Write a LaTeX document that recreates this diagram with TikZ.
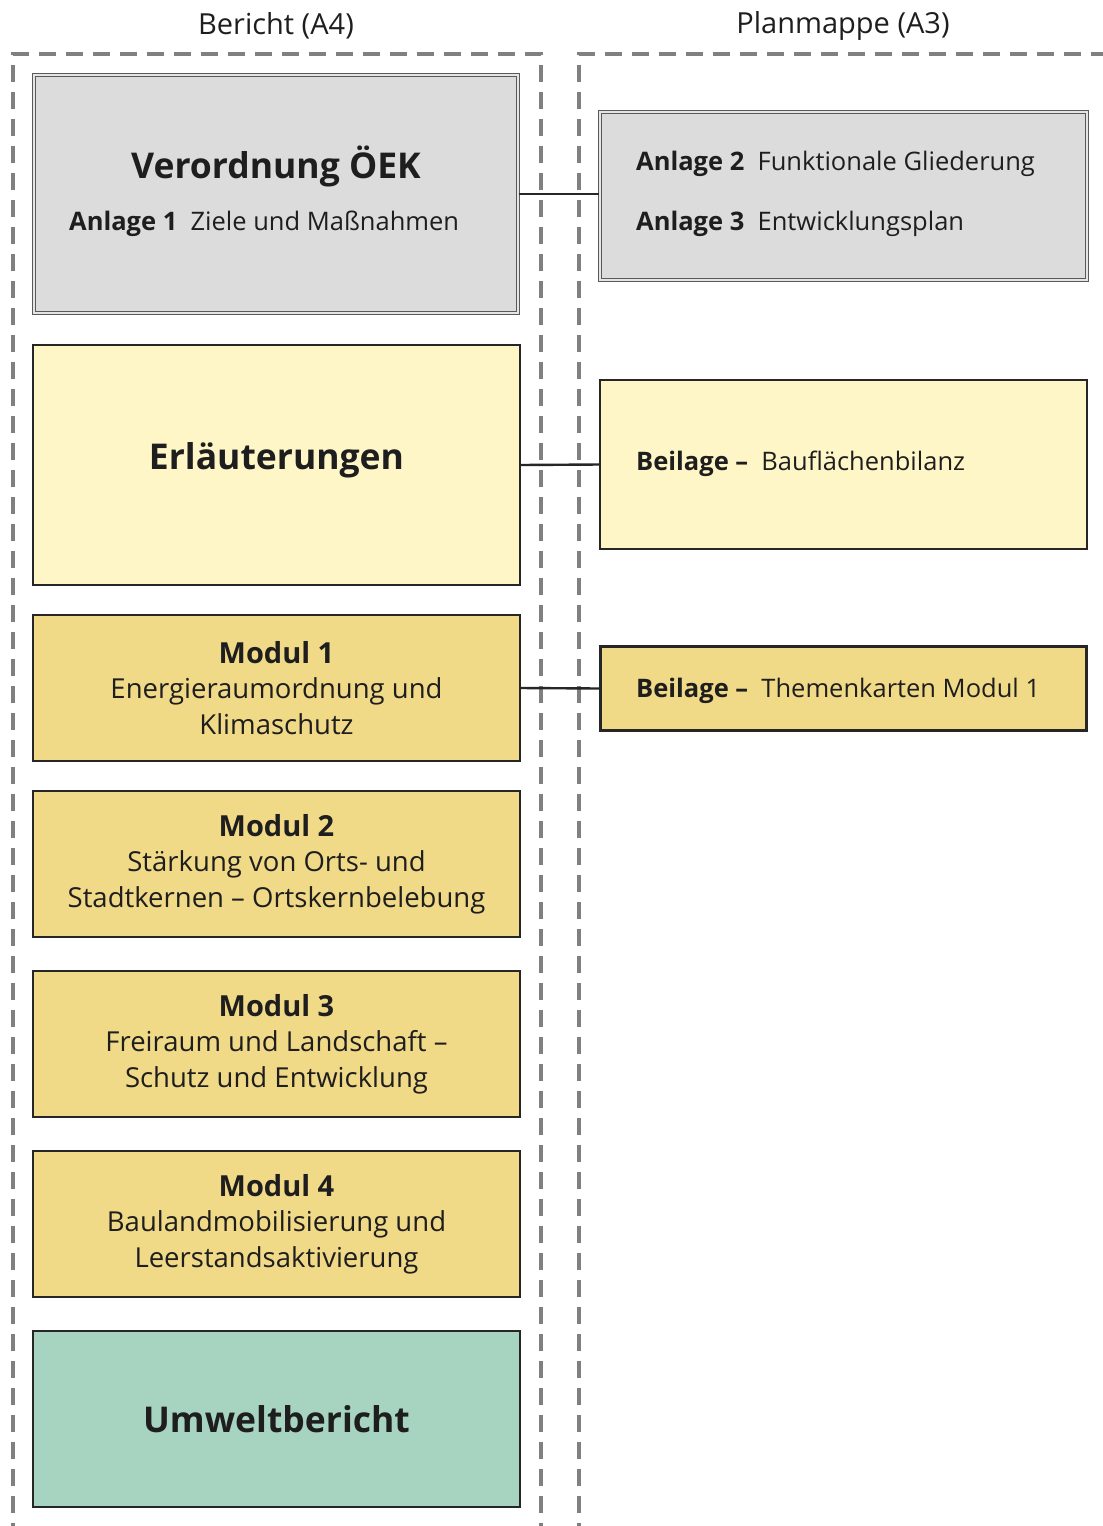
\documentclass[tikz,border=0pt]{standalone}
\usepackage{fontspec}
\setmainfont{Open Sans}
\usepackage{tikz}

\definecolor{greyFill}{HTML}{DCDCDC}
\definecolor{lightFill}{HTML}{FFF6C7}
\definecolor{modulFill}{HTML}{F0D987}
\definecolor{greenFill}{HTML}{A6D4C0}
\definecolor{textGrey}{HTML}{1E1E1E}

\begin{document}
\begin{tikzpicture}
[x=1pt,y=-1pt,%
    boxDecorate/.style={shape=rectangle,inner sep=0pt,draw=black!85,line width=1.2pt,align=center,text=textGrey,font=\fontsize{27.5}{35.5}\selectfont},%
    greyDecorate/.style={boxDecorate,fill=greyFill,draw=black!65,double=white!80!gray,double distance=2pt,line width=1.1pt},%
    lightDecorate/.style={boxDecorate,fill=lightFill},%
    modulDecorate/.style={boxDecorate,fill=modulFill,minimum width=487pt,minimum height=146pt},%
    greenDecorate/.style={boxDecorate,fill=greenFill},%
    textDecorate/.style={anchor=west,inner sep=0pt,text=textGrey,font=\fontsize{25.5}{30}\selectfont},%
    titleDecorate/.style={inner sep=0pt,text=textGrey,font=\fontsize{29}{34}\selectfont},%
    headDecorate/.style={inner sep=0pt,text=textGrey,font=\fontsize{35.5}{40}\selectfont\bfseries},%
    dashDecorate/.style={gray,line width=3.2pt,dash pattern=on 17pt off 10pt},%
    lineDecorate/.style={black!85,line width=2.4pt}]
    \useasboundingbox (0,0) rectangle (1103,1526);
    \clip (0,0) rectangle (1103,1526);
    %% column titles and frames
    \node (bericht) at (276,26) [titleDecorate] {Bericht (A4)};
    \node (planmappe) at (843,26) [titleDecorate] {Planmappe (A3)};
    \draw[dashDecorate] (13,1540) -- (13,54) -- (541,54) -- (541,1540);
    \draw[dashDecorate] (579,1540) -- (579,54) -- (1120,54);
    %% bericht
    \node (verordnung) at (276,194) [greyDecorate,minimum width=484pt,minimum height=238pt] {};
    \node (verordnungTitle) at (276,166) [headDecorate] {Verordnung ÖEK};
    \node (anlage1) at (69,224) [textDecorate] {\textbf{Anlage 1}\ \ Ziele und Maßnahmen};
    \node (erlaeuterungen) at (276.5,465) [lightDecorate,minimum width=487pt,minimum height=240pt] {};
    \node (erlaeuterungenTitle) at (276.5,460) [headDecorate] {Erläuterungen};
    \foreach \nodename/\y/\title/\lineA/\lineB in {modul1/688/Modul 1/Energieraumordnung und/Klimaschutz, modul2/864/Modul 2/Stärkung von Orts- und/Stadtkernen – Ortskernbelebung, modul3/1044/Modul 3/Freiraum und Landschaft –/Schutz und Entwicklung, modul4/1224/Modul 4/Baulandmobilisierung und/Leerstandsaktivierung}
    {
        \node (\nodename) at (276.5,\y) [modulDecorate] {{\fontsize{29}{35.5}\selectfont\bfseries\title}\\\lineA\\\lineB};
    }
    \node (umweltbericht) at (276.5,1419) [greenDecorate,minimum width=487pt,minimum height=176pt,font=\fontsize{35.5}{40}\selectfont\bfseries] {Umweltbericht};
    %% planmappe
    \node (anlagen) at (843.5,196) [greyDecorate,minimum width=487pt,minimum height=168pt] {};
    \node (anlage2) at (636,164) [textDecorate] {\textbf{Anlage 2}\ \ Funktionale Gliederung};
    \node (anlage3) at (636,224) [textDecorate] {\textbf{Anlage 3}\ \ Entwicklungsplan};
    \node (bauflaechen) at (843.5,464.5) [lightDecorate,minimum width=487pt,minimum height=169pt] {};
    \node (bauflaechenText) at (636,464) [textDecorate] {\textbf{Beilage –}\ \ Bauflächenbilanz};
    \node (themenkarten) at (843.5,688.5) [boxDecorate,fill=modulFill,line width=2.6pt,minimum width=486pt,minimum height=84pt] {};
    \node (themenkartenText) at (636,691) [textDecorate] {\textbf{Beilage –}\ \ Themenkarten Modul 1};
    %% connectors
    \draw[lineDecorate] (verordnung.east) -- (verordnung.east -| anlagen.west);
    \draw[lineDecorate] (erlaeuterungen.east) -- (bauflaechen.west);
    \draw[lineDecorate] (modul1.east) -- (themenkarten.west);
\end{tikzpicture}
\end{document}
